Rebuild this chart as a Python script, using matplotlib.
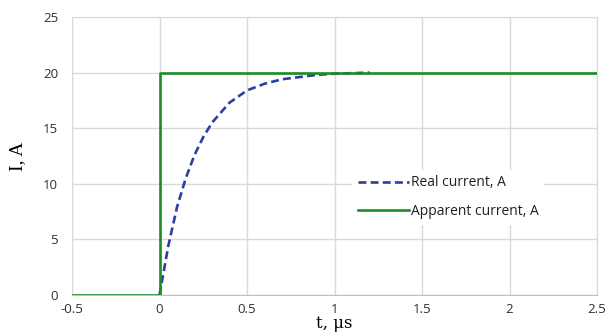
#!/usr/bin/env python3
"""Step response: real (dashed) vs apparent (step) current."""

import matplotlib
matplotlib.use("Agg")
import matplotlib.pyplot as plt

# data
real_t = [0, 0.05, 0.1, 0.15, 0.2, 0.25, 0.3, 0.4, 0.5, 0.6, 0.7, 0.8, 0.9, 1.0, 1.1, 1.2]
real_i = [0, 4.4, 7.9, 10.5, 12.6, 14.2, 15.5, 17.3, 18.4, 19.0, 19.4, 19.6, 19.8, 19.9, 19.95, 20.0]

app_t = [-0.5, 0, 0, 2.5]
app_i = [0, 0, 20, 20]

x_ticks = [-0.5, 0, 0.5, 1, 1.5, 2, 2.5]
x_labels = ["-0.5", "0", "0.5", "1", "1.5", "2", "2.5"]
y_ticks = [0, 5, 10, 15, 20, 25]

GRID = "#d9d9d9"
BLUE = "#2b3f9e"
GREEN = "#1f8b24"
TXT = "#303030"

fig = plt.figure(figsize=(6.05, 3.34), dpi=100)
ax = fig.add_axes([0.119, 0.117, 0.868, 0.832])

ax.plot(real_t, real_i, ls=(0, (3, 1.6)), color=BLUE, lw=1.9, label="Real current, A", zorder=3)
ax.plot(app_t, app_i, color=GREEN, lw=1.9, label="Apparent current, A", zorder=4)

ax.set_xlim(-0.5, 2.5)
ax.set_ylim(0, 25)
ax.set_xticks(x_ticks)
ax.set_xticklabels(x_labels)
ax.set_yticks(y_ticks)
ax.grid(True, color=GRID, lw=1, zorder=0)
ax.set_axisbelow(True)
for s in ax.spines.values():
    s.set_color(GRID)
ax.spines["bottom"].set_color("#bfbfbf")
ax.tick_params(axis="x", length=0, labelsize=9.5, labelcolor=TXT, pad=6)
ax.tick_params(axis="y", length=0, labelsize=9.5, labelcolor=TXT, pad=10)
for lbl in ax.get_xticklabels() + ax.get_yticklabels():
    lbl.set_family("Open Sans")

ax.set_xlabel("t, μs", family="DejaVu Serif", fontsize=12, labelpad=-1)
ax.set_ylabel("I, A", family="Liberation Serif", fontsize=14, labelpad=12)

leg = ax.legend(loc="upper left", bbox_to_anchor=(0.52, 0.475), frameon=True,
                facecolor="white", edgecolor="none", framealpha=1, fancybox=False,
                handlelength=3.7, handletextpad=0.15, labelspacing=1.0,
                prop={"family": "Open Sans", "size": 10})
for t in leg.get_texts():
    t.set_color("#202020")

fig.savefig("out.png", dpi=100)
